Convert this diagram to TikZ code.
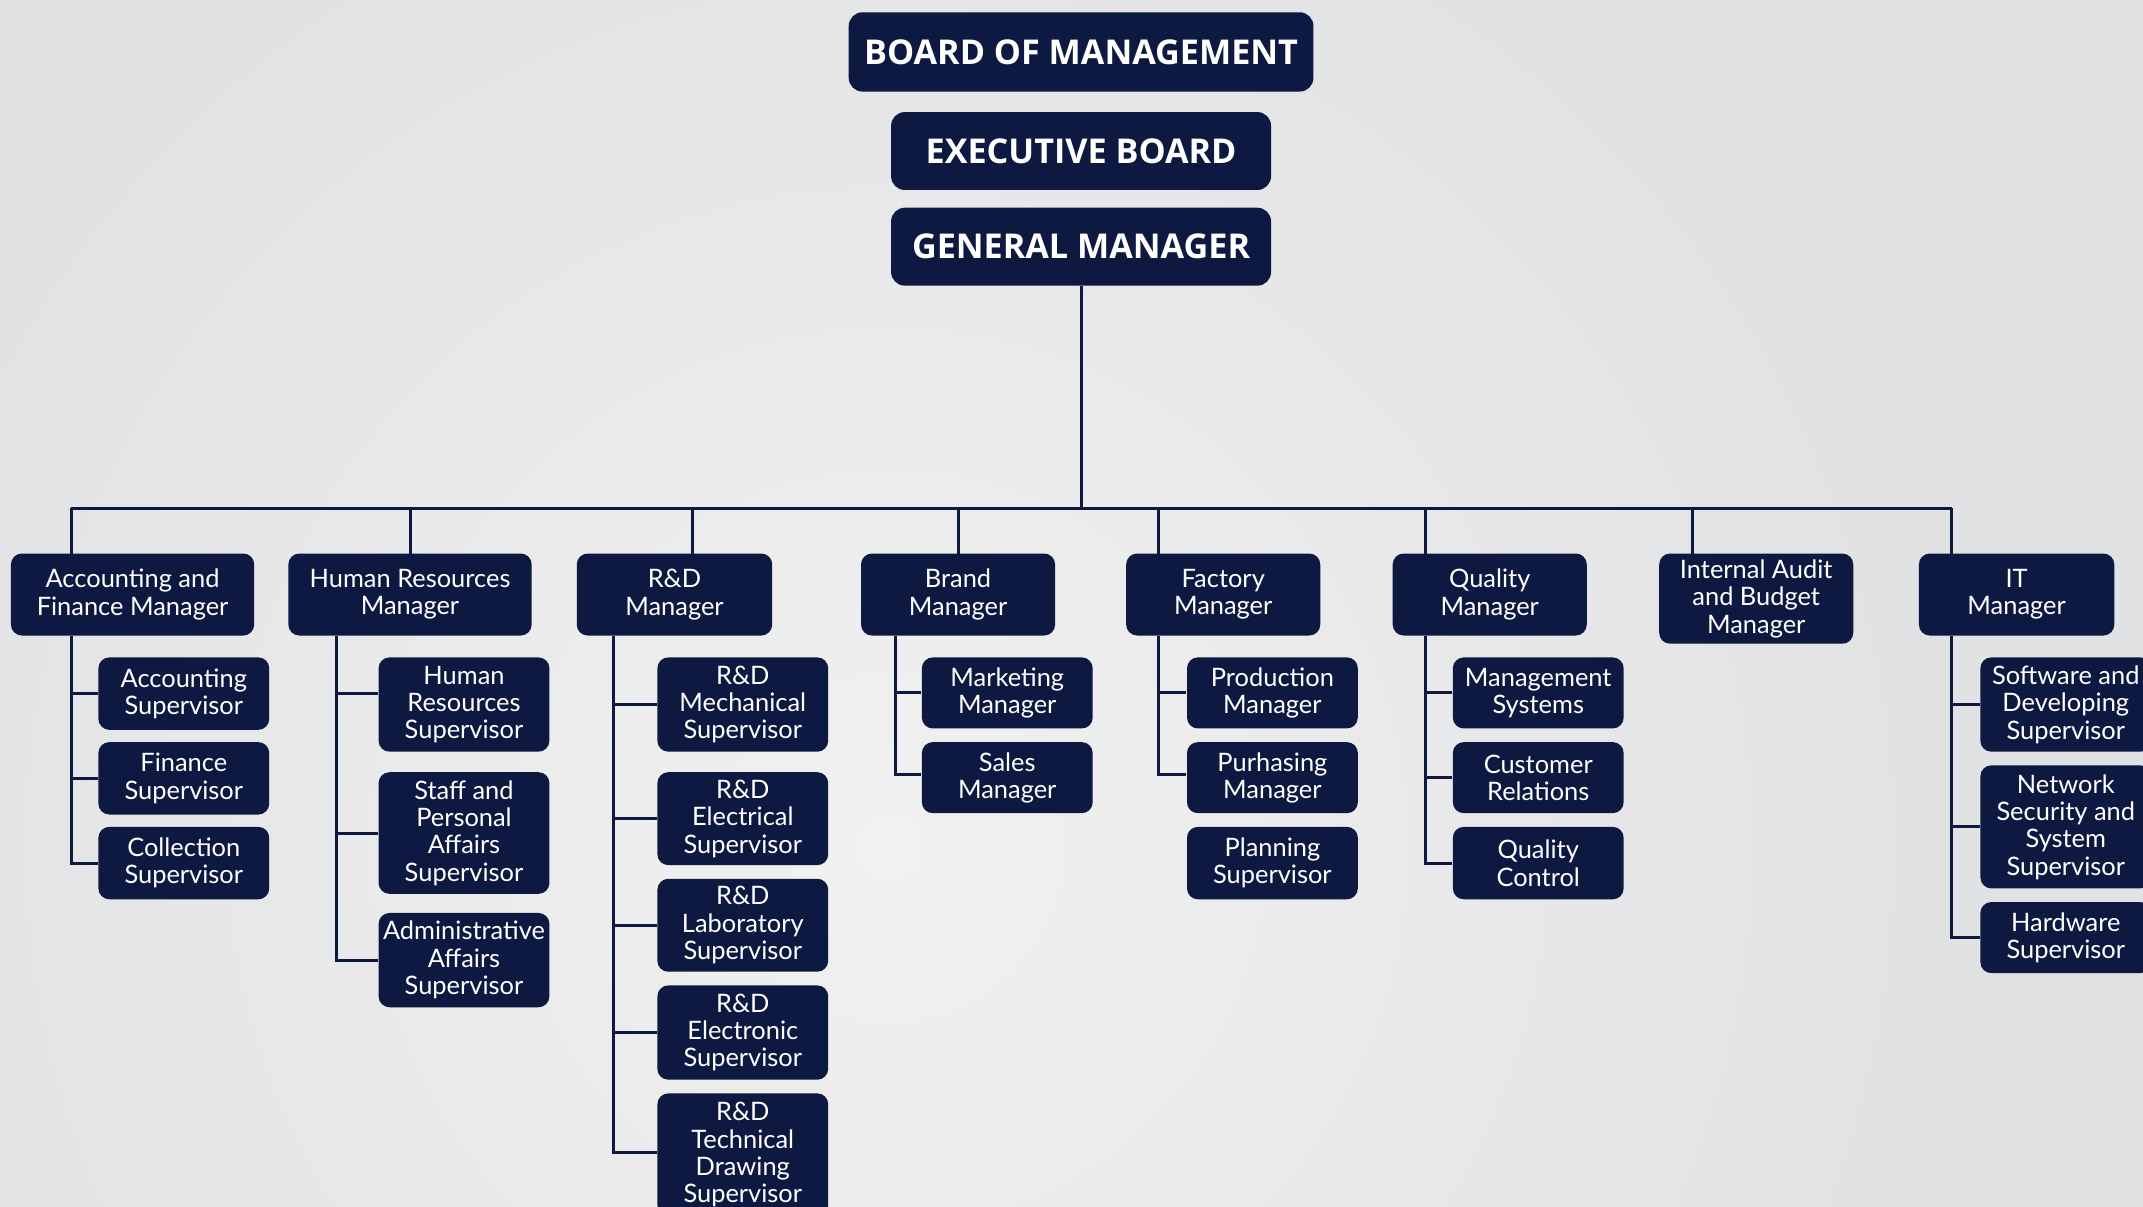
\documentclass[tikz,border=0pt]{standalone}
\usepackage{fontspec}
\setmainfont{Lato}
\newfontfamily\topfont{Open Sans}[BoldFont={* Bold}]
\usetikzlibrary{calc}
\definecolor{navy}{RGB}{13,25,64}
\definecolor{bgbase}{RGB}{225,226,228}
\definecolor{bglight}{RGB}{241,241,241}
\pgfdeclarelayer{background}
\pgfsetlayers{background,main}
\tikzset{
  topbox/.style={fill=navy, text=white, rounded corners=5pt, inner sep=0pt,
    font={\topfont\bfseries\fontsize{12.5}{14}\selectfont}},
  mgrbox/.style={fill=navy, text=white, rounded corners=4pt, inner sep=0pt, align=center,
    font={\fontsize{9.3}{10}\selectfont}},
  subbox/.style={mgrbox, minimum width=62.5pt},
  conn/.style={draw=navy, line width=1.1pt}
}
\begin{document}
\begin{tikzpicture}[x=0.5pt, y=-0.5pt]
\useasboundingbox (0,0) rectangle (1568,883);
\clip (0,0) rectangle (1568,883);

% top
\node[topbox, minimum width=170pt, minimum height=29pt] (bom) at (791,38) {BOARD OF MANAGEMENT};
\node[topbox, minimum width=139pt, minimum height=28.5pt] (exb) at (791,110.5) {EXECUTIVE BOARD};
\node[topbox, minimum width=139pt, minimum height=28.5pt] (gm) at (791,180.5) {GENERAL MANAGER};

% managers
\node[mgrbox, minimum width=89pt, minimum height=30pt] (acc) at (97,435) {Accounting and\\Finance Manager};
\node[mgrbox, minimum width=89pt, minimum height=30pt] (hr) at (300,435) {Human Resources\\Manager};
\node[mgrbox, minimum width=71.5pt, minimum height=30pt] (rd) at (493.5,435) {R\&D\\Manager};
\node[mgrbox, minimum width=71pt, minimum height=30pt] (br) at (701,435) {Brand\\Manager};
\node[mgrbox, minimum width=71pt, minimum height=30pt] (fac) at (895,435) {Factory\\Manager};
\node[mgrbox, minimum width=71pt, minimum height=30pt] (qm) at (1090,435) {Quality\\Manager};
\node[mgrbox, minimum width=71pt, minimum height=33pt] (ia) at (1285,438) {Internal Audit\\and Budget\\Manager};
\node[mgrbox, minimum width=71.5pt, minimum height=30pt] (it) at (1475.5,435) {IT\\Manager};

% drop points
\coordinate (busC) at (791,372);
\coordinate (accD) at (52,405);
\coordinate (hrD) at (300,405);
\coordinate (rdD) at (507,405);
\coordinate (brD) at (701,405);
\coordinate (facD) at (848,405);
\coordinate (qmD) at (1043,405);
\coordinate (iaD) at (1238,405);
\coordinate (itD) at (1428,405);

% sub boxes
\node[subbox, minimum height=26.5pt] (a1) at (134.5,507.5) {Accounting\\Supervisor};
\node[subbox, minimum height=26.5pt] (a2) at (134.5,569.5) {Finance\\Supervisor};
\node[subbox, minimum height=26.5pt] (a3) at (134.5,631.5) {Collection\\Supervisor};

\node[subbox, minimum height=34.5pt] (h1) at (339.5,515.5) {Human\\Resources\\Supervisor};
\node[subbox, minimum height=44.5pt] (h2) at (339.5,609.5) {Staff and\\Personal\\Affairs\\Supervisor};
\node[subbox, minimum height=34.5pt] (h3) at (339.5,702.5) {Administrative\\Affairs\\Supervisor};

\node[subbox, minimum height=34.5pt] (r1) at (543.5,515.5) {R\&D\\Mechanical\\Supervisor};
\node[subbox, minimum height=34pt] (r2) at (543.5,599) {R\&D\\Electrical\\Supervisor};
\node[subbox, minimum height=34pt] (r3) at (543.5,677) {R\&D\\Laboratory\\Supervisor};
\node[subbox, minimum height=34.5pt] (r4) at (543.5,755.5) {R\&D\\Electronic\\Supervisor};
\node[subbox, minimum height=45pt] (r5) at (543.5,845) {R\&D\\Technical\\Drawing\\Supervisor};

\node[subbox, minimum height=26pt] (b1) at (737,507) {Marketing\\Manager};
\node[subbox, minimum height=26pt] (b2) at (737,569) {Sales\\Manager};

\node[subbox, minimum height=26pt] (f1) at (931,507) {Production\\Manager};
\node[subbox, minimum height=26pt] (f2) at (931,569) {Purhasing\\Manager};
\node[subbox, minimum height=26.5pt] (f3) at (931,631.5) {Planning\\Supervisor};

\node[subbox, minimum height=26pt] (q1) at (1125.5,507) {Management\\Systems};
\node[subbox, minimum height=26pt] (q2) at (1125.5,569) {Customer\\Relations};
\node[subbox, minimum height=26.5pt] (q3) at (1125.5,631.5) {Quality\\Control};

\node[subbox, minimum height=34.5pt] (t1) at (1511.5,515.5) {Software and\\Developing\\Supervisor};
\node[subbox, minimum height=45pt] (t2) at (1511.5,605) {Network\\Security and\\System\\Supervisor};
\node[subbox, minimum height=26pt] (t3) at (1511.5,686) {Hardware\\Supervisor};

% trunk x positions
\coordinate (hrT) at (246,405);
\coordinate (rdT) at (449,405);
\coordinate (brT) at (655,405);

\begin{pgfonlayer}{background}
\fill[bgbase] (0,0) rectangle (1568,883);
\shade[inner color=bglight, outer color=bgbase] (650,620) circle (760);

% connectors: top
\draw[conn] (gm.south) -- (busC);
\draw[conn] (accD |- busC) -- (itD |- busC);
\foreach \d in {accD,hrD,rdD,brD,facD,qmD,iaD,itD}
  \draw[conn] (\d |- busC) -- (\d);

% accounting
\draw[conn] (accD |- acc.south) |- (a3.west);
\draw[conn] (accD |- a1.west) -- (a1.west);
\draw[conn] (accD |- a2.west) -- (a2.west);
% HR
\draw[conn] (hrT |- hr.south) |- (h3.west);
\draw[conn] ($(h1.west)+(0,-8)$) -- ($(hrT |- h1.west)+(0,-8)$);
\draw[conn] (h2.west) -- (hrT |- h2.west);
% R&D
\draw[conn] (rdT |- rd.south) |- ($(r5.west)+(0,-2)$);
\foreach \n in {r1,r2,r3,r4}
  \draw[conn] (\n.west) -- (rdT |- \n.west);
% Brand
\draw[conn] (brT |- br.south) |- ($(b2.west)+(0,-2)$);
\draw[conn] (b1.west) -- (brT |- b1.west);
% Factory
\draw[conn] (facD |- fac.south) |- ($(f2.west)+(0,-2)$);
\draw[conn] (f1.west) -- (facD |- f1.west);
% Quality
\draw[conn] (qmD |- qm.south) |- (q3.west);
\draw[conn] (q1.west) -- (qmD |- q1.west);
\draw[conn] (q2.west) -- (qmD |- q2.west);
% IT
\draw[conn] (itD |- it.south) |- (t3.west);
\draw[conn] (t1.west) -- (itD |- t1.west);
\draw[conn] (t2.west) -- (itD |- t2.west);
\end{pgfonlayer}
\end{tikzpicture}
\end{document}
